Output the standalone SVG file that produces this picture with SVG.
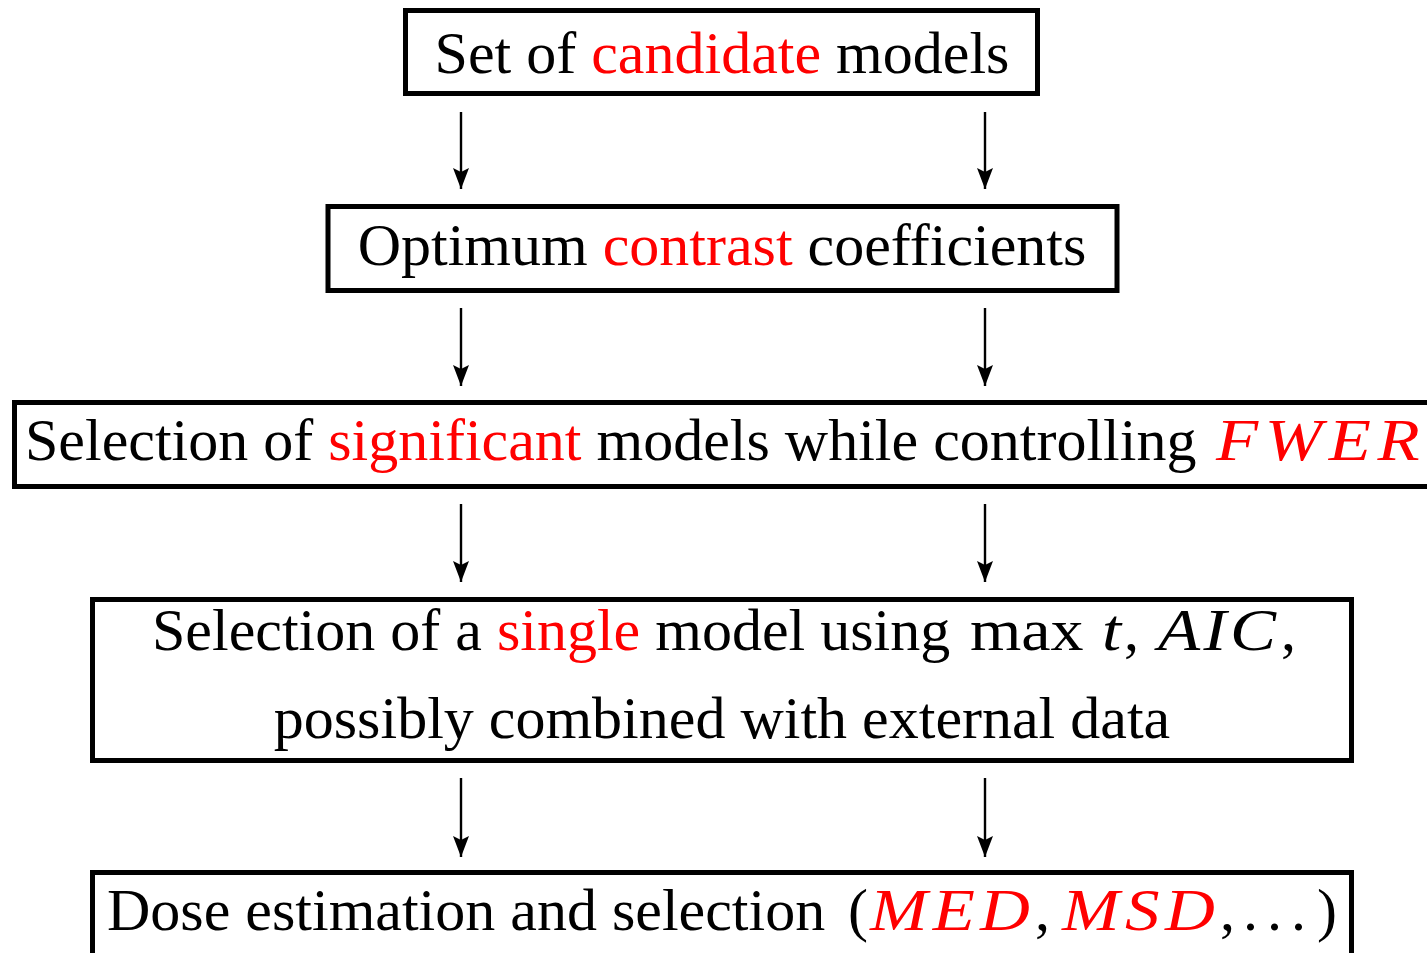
<svg xmlns="http://www.w3.org/2000/svg" width="1427" height="953" viewBox="0 0 1427 953">
<style>
.box{fill:#fff;stroke:#000;stroke-width:5}
.t{font-family:"Liberation Serif","Times New Roman",serif;font-size:60px;fill:#000}
.r{fill:#ff0000}
.m{font-style:italic}
.c{stroke:#000;stroke-width:2.4;fill:none}
</style>
<defs>
<marker id="ah" viewBox="0 0 21 16" refX="21" refY="8" markerWidth="21" markerHeight="16" markerUnits="userSpaceOnUse" orient="auto">
<path d="M0,0 L21,8 L0,16 L4,8 Z" fill="#000"/>
</marker>
</defs>
<rect width="1427" height="953" fill="#fff"/>
<g id="connectors">
<line class="c" x1="461" y1="112" x2="461" y2="189" marker-end="url(#ah)"/>
<line class="c" x1="985" y1="112" x2="985" y2="189" marker-end="url(#ah)"/>
<line class="c" x1="461" y1="308" x2="461" y2="386" marker-end="url(#ah)"/>
<line class="c" x1="985" y1="308" x2="985" y2="386" marker-end="url(#ah)"/>
<line class="c" x1="461" y1="504" x2="461" y2="582" marker-end="url(#ah)"/>
<line class="c" x1="985" y1="504" x2="985" y2="582" marker-end="url(#ah)"/>
<line class="c" x1="461" y1="778" x2="461" y2="857" marker-end="url(#ah)"/>
<line class="c" x1="985" y1="778" x2="985" y2="857" marker-end="url(#ah)"/>
</g>
<g id="node1">
<rect class="box" x="405.5" y="10.5" width="632" height="83"/>
<text class="t" x="722" y="73" text-anchor="middle">Set of <tspan class="r">candidate</tspan> models</text>
</g>
<g id="node2">
<rect class="box" x="328" y="206.5" width="789" height="84"/>
<text class="t" x="722" y="265" text-anchor="middle">Optimum <tspan class="r">contrast</tspan> coefficients</text>
</g>
<g id="node3">
<rect class="box" x="14.5" y="402.5" width="1420" height="84"/>
<text class="t" x="25" y="460">Selection of <tspan class="r">significant</tspan> models while controlling</text>
<text class="t r m" transform="translate(1216,460) scale(1.15,1)" x="0" y="0" textLength="177" lengthAdjust="spacing">FWER</text>
</g>
<g id="node4">
<rect class="box" x="92.5" y="599.5" width="1259" height="161"/>
<text class="t" x="152" y="650">Selection of a <tspan class="r">single</tspan> model using</text>
<text class="t" transform="translate(970,650) scale(1.1,1)" x="0" y="0">max</text>
<text class="t m" transform="translate(1102,650) scale(1.15,1)" x="0" y="0">t</text>
<text class="t" x="1124" y="650">,</text>
<text class="t m" transform="translate(1158,650) scale(1.15,1)" x="0" y="0" textLength="102.6" lengthAdjust="spacing">AIC</text>
<text class="t" x="1281" y="650">,</text>
<text class="t" x="722" y="738" text-anchor="middle">possibly combined with external data</text>
</g>
<g id="node5">
<rect class="box" x="92.5" y="872.5" width="1259" height="100"/>
<text class="t" x="107" y="930">Dose estimation and selection</text>
<text class="t" x="848" y="930">(</text>
<text class="t r m" transform="translate(870,930) scale(1.15,1)" x="0" y="0" textLength="139" lengthAdjust="spacing">MED</text>
<text class="t" x="1035" y="930">,</text>
<text class="t r m" transform="translate(1062,930) scale(1.15,1)" x="0" y="0" textLength="133" lengthAdjust="spacing">MSD</text>
<text class="t" x="1220" y="930">,</text>
<text class="t" x="1243" y="930">.</text>
<text class="t" x="1267" y="930">.</text>
<text class="t" x="1291" y="930">.</text>
<text class="t" x="1317" y="930">)</text>
</g>
</svg>
